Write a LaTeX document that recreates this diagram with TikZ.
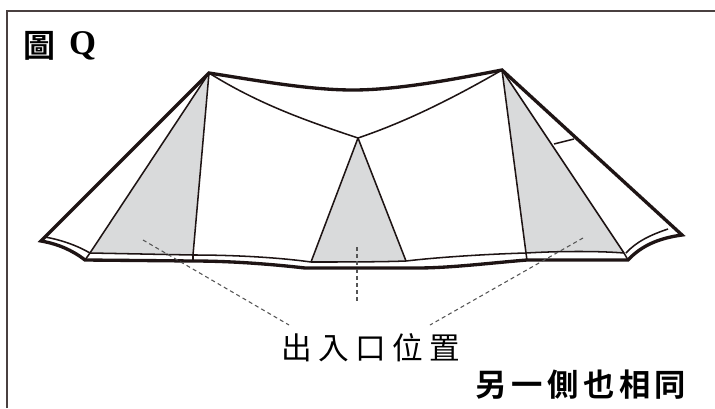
\documentclass[tikz,border=0pt]{standalone}
\usepackage{fontspec}
\newfontfamily\cjk[BoldFont={Noto Sans CJK TC Bold}]{Noto Sans CJK TC}
\newfontfamily\serifq{Liberation Serif}
\definecolor{panel}{HTML}{D9DADB}
\definecolor{ink}{HTML}{1E1414}
\definecolor{framec}{HTML}{4A4040}
\definecolor{dashc}{HTML}{555555}
\tikzset{
  outline/.style={draw=ink,line width=2.5pt,line join=miter,line cap=round},
  thin seam/.style={draw=ink,line width=1.15pt,line join=round},
  door/.style={fill=panel,draw=none},
  leader/.style={draw=dashc,line width=0.8pt,dash pattern=on 3pt off 2.4pt},
  label/.style={inner sep=0pt,text=black,anchor=center},
}
\newcommand{\gp}[1][3.4pt]{\hspace{#1}}
\begin{document}
\begin{tikzpicture}[x=0.75pt,y=-0.75pt]
\useasboundingbox (0,0) rectangle (715,408);
\fill[white] (0,0) rectangle (715,408);
\draw[framec,line width=1.5pt] (7,408) -- (7,11) -- (715,11);
% key points
\coordinate (AL) at (209,73);
\coordinate (AR) at (502,70);
\coordinate (V) at (358,138);
\coordinate (CL) at (41,241);
\coordinate (CR) at (682,235);
\coordinate (HL) at (85,260);
\coordinate (HR) at (628,260);
\coordinate (GL1) at (90,253);
\coordinate (GL2) at (193,255);
\coordinate (GC1) at (311,262);
\coordinate (GC2) at (406,261);
\coordinate (GR1) at (526,253);
\coordinate (GR2) at (624,253);
% grey door panels
\path[door] (AL) -- (GL1) -- (GL2) -- cycle;
\path[door] (V) -- (GC1) .. controls (340,262) and (380,262) .. (GC2) -- cycle;
\path[door] (AR) -- (GR1) .. controls (560,251) and (600,251) .. (GR2) -- cycle;
% thin seams
\draw[thin seam] (AL) -- (GL1) -- (HL);
\draw[thin seam] (AL) -- (GL2) -- (193,261);
\draw[thin seam] (AR) -- (GR1) -- (527,260);
\draw[thin seam] (AR) -- (GR2) -- (HR);
\draw[thin seam] (V) -- (GC1);
\draw[thin seam] (V) -- (GC2);
\draw[thin seam] (AL) .. controls (260,105) and (310,122) .. (V);
\draw[thin seam] (AR) .. controls (450,100) and (405,122) .. (V);
\coordinate (TA) at (554,144);
\coordinate (TB) at (574,139);
\draw[thin seam] (TA) -- (TB);
% hem inner lines
\draw[thin seam] (45,237) .. controls (62,240) and (78,246) .. (GL1);
\draw[thin seam] (GL1) -- (GL2) .. controls (230,255) and (275,257) .. (GC1) .. controls (340,262) and (380,262) .. (GC2) .. controls (440,257) and (490,254) .. (GR1) .. controls (560,251) and (600,251) .. (GR2);
\draw[thin seam] (626,253) .. controls (636,242) and (650,235) .. (668,229);
% outer outline
\draw[outline] (HL) .. controls (72,250) and (58,244) .. (CL) -- (AL)
  .. controls (260,81) and (310,90) .. (353,90) .. controls (400,90) and (460,78) .. (AR)
  -- (CR) .. controls (660,238) and (642,245) .. (HR)
  -- (527,260) .. controls (490,263) and (450,268) .. (417,268) -- (305,268)
  .. controls (270,264) and (230,261) .. (193,261) -- cycle;
% leaders
\coordinate (D1) at (289,325);
\coordinate (D2) at (357,303);
\coordinate (D3) at (430,325);
\draw[leader] (143,240) -- (D1);
\draw[leader] (357,247) -- (D2);
\draw[leader] (583,238) -- (D3);
% labels
\node[label] (title) at (39.5,46) {\cjk\bfseries\fontsize{24}{26}\selectfont 圖};
\node[label] (titleq) at (82.5,46) {\serifq\bfseries\fontsize{26}{28}\selectfont Q};
\node[label] (door) at (370.5,348) {\cjk\fontsize{23}{26}\selectfont 出\gp[4.8pt]入\gp[4.8pt]口\gp[4.8pt]位\gp[4.8pt]置};
\node[label] (other) at (581,385) {\cjk\bfseries\fontsize{23.5}{26}\selectfont 另\gp 一\gp 側\gp 也\gp 相\gp 同};
\end{tikzpicture}
\end{document}
